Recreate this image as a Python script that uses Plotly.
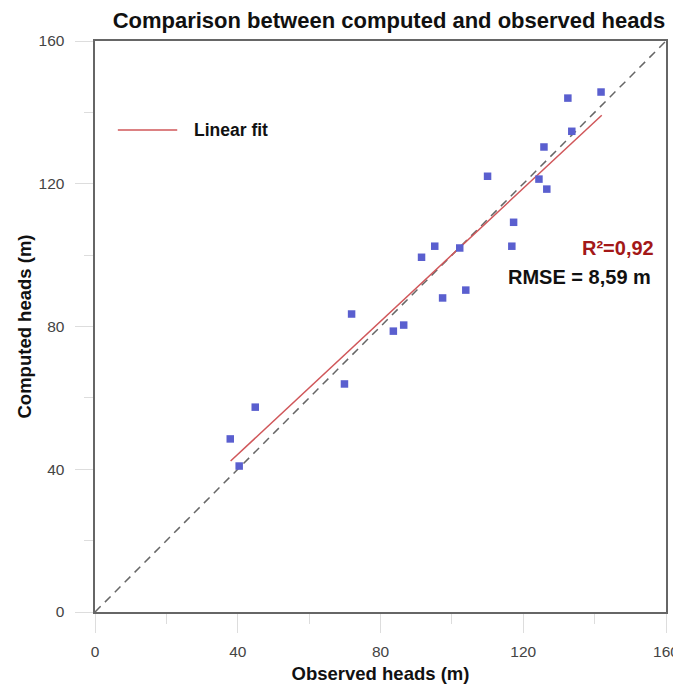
import plotly.graph_objects as go

# Observed vs computed heads (m)
observed = [37.9, 40.4, 44.9, 69.9, 71.9, 83.6, 86.5, 91.5, 95.2, 97.4, 102.2,
            103.9, 110.0, 116.8, 117.3, 124.4, 125.8, 126.6, 132.5, 133.6, 141.8]
computed = [48.5, 40.9, 57.4, 63.9, 83.5, 78.7, 80.4, 99.4, 102.5, 88.0, 102.0,
            90.2, 122.1, 102.5, 109.2, 121.3, 130.3, 118.5, 144.0, 134.7, 145.7]

# Linear fit end points (as drawn)
fit_x = [38.0, 142.0]
fit_y = [42.3, 139.2]

# 1:1 reference line
ref_x = [0, 160]
ref_y = [0, 160]

legend_text = "Linear fit"
r2_text = "R²=0,92"
rmse_text = "RMSE = 8,59 m"

FONT = "Liberation Sans, Arial, sans-serif"
FIT_COLOR = "#d0575a"

fig = go.Figure()
fig.add_trace(go.Scatter(x=ref_x, y=ref_y, mode="lines",
                         line=dict(color="#666666", width=1.5, dash="8px,6px"),
                         showlegend=False, hoverinfo="skip"))
fig.add_trace(go.Scatter(x=fit_x, y=fit_y, mode="lines", name=legend_text,
                         line=dict(color=FIT_COLOR, width=1.5), showlegend=False))
fig.add_trace(go.Scatter(x=observed, y=computed, mode="markers",
                         marker=dict(symbol="square", size=7.5, color="#5a5fcf"),
                         showlegend=False))

# legend (drawn as a key inside the plot)
fig.add_shape(type="line", xref="paper", yref="paper", x0=0.040, x1=0.144,
              y0=0.844, y1=0.844, line=dict(color=FIT_COLOR, width=1.5))
fig.add_annotation(x=0.170, y=0.844, xref="paper", yref="paper", xanchor="left",
                   yanchor="middle", text="<b>" + legend_text + "</b>", showarrow=False,
                   font=dict(size=17.5, color="#111111", family=FONT))

fig.add_annotation(x=1.0, y=0.637, xref="paper", yref="paper", xanchor="right",
                   yanchor="middle", xshift=-10, text="<b>" + r2_text + "</b>",
                   showarrow=False, font=dict(size=20, color="#a31818", family=FONT))
fig.add_annotation(x=1.0, y=0.586, xref="paper", yref="paper", xanchor="right",
                   yanchor="middle", xshift=-13, text="<b>" + rmse_text + "</b>",
                   showarrow=False, font=dict(size=20, color="#111111", family=FONT))

fig.update_layout(
    width=673, height=680,
    margin=dict(l=87, r=15, t=33, b=76),
    paper_bgcolor="white", plot_bgcolor="white",
    font=dict(family=FONT, color="#444444", size=15.5),
    title=dict(text="<b>Comparison between computed and observed heads</b>",
               x=0.566, xanchor="center", y=0.982, yanchor="middle",
               font=dict(size=22, color="#111111", family=FONT)),
    showlegend=False,
    xaxis=dict(range=[0, 160], dtick=40, tick0=0, showgrid=False, zeroline=False,
               showline=True, linecolor="#666666", linewidth=1.5, mirror=True,
               ticks="outside", ticklen=19, tickcolor="#dddddd", tickwidth=1,
               ticklabelstandoff=6, automargin=False,
               minor=dict(dtick=20, ticks="outside", ticklen=10, tickcolor="#dddddd"),
               title=dict(text="<b>Observed heads (m)</b>", standoff=8,
                          font=dict(size=18.5, color="#111111", family=FONT))),
    yaxis=dict(range=[0, 160], dtick=40, tick0=0, showgrid=False, zeroline=False,
               showline=True, linecolor="#666666", linewidth=1.5, mirror=True,
               ticks="outside", ticklen=18, tickcolor="#dddddd", tickwidth=1,
               ticksuffix="\u2002", automargin=False,
               minor=dict(dtick=20, ticks="outside", ticklen=9, tickcolor="#dddddd"),
               title=dict(text="<b>Computed heads (m)</b>", standoff=2,
                          font=dict(size=18.5, color="#111111", family=FONT))),
)

fig.write_html("out.html")
